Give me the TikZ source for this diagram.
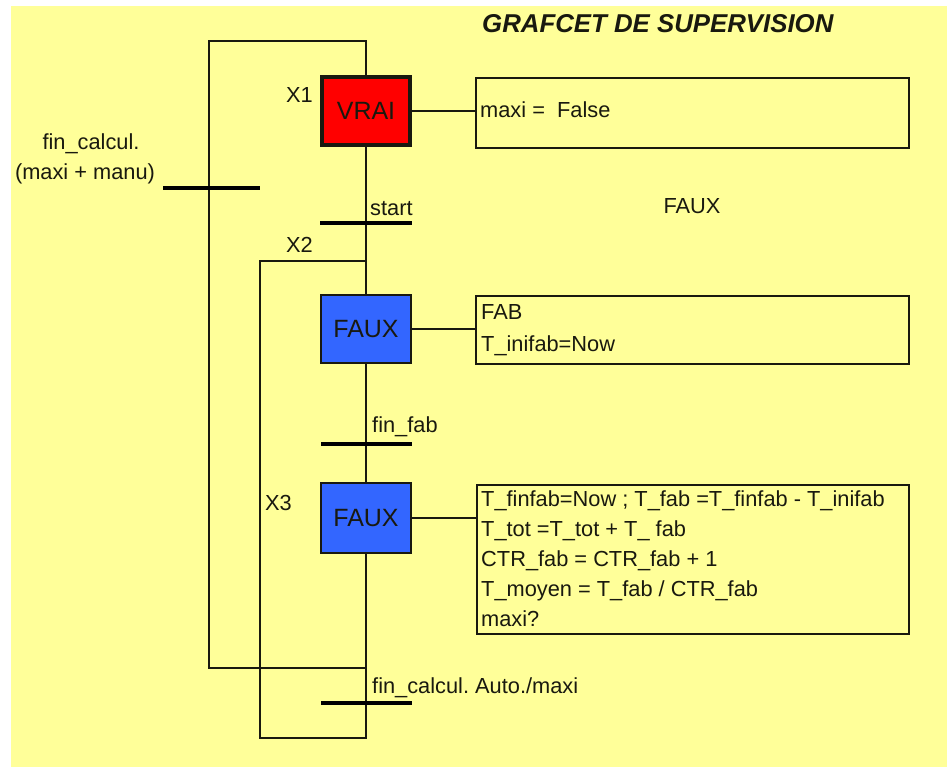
\documentclass[tikz,border=0pt]{standalone}
\usepackage{fontspec}
\setmainfont{Liberation Sans}
\definecolor{bgyellow}{RGB}{255,255,153}
\definecolor{stepblue}{RGB}{51,102,255}
\definecolor{stepred}{RGB}{255,0,0}
\definecolor{ink}{RGB}{25,25,15}
\frenchspacing
\begin{document}
\begin{tikzpicture}[x=1pt,y=-1pt,
  wire/.style={line width=2pt, draw=ink},
  bar/.style={line width=4.3pt, draw=black},
  stepbox/.style={draw=ink, line width=2pt, minimum width=90pt, minimum height=68pt, inner sep=0pt, font=\fontsize{25}{29}\selectfont, text=ink},
  actbox/.style={draw=ink, line width=2.3pt, inner sep=0pt, anchor=north west},
  txt/.style={font=\fontsize{21.8}{26}\selectfont, inner sep=0pt, anchor=base west, text=ink}]
\useasboundingbox (0,0) rectangle (947,767);
\fill[white] (0,0) rectangle (947,767);
\fill[bgyellow] (11,6) rectangle (947,767);

% title
\node[font=\fontsize{25.8}{30}\selectfont\bfseries\itshape, anchor=base west, inner sep=0pt, text=ink] (title) at (482,33) {GRAFCET DE SUPERVISION};

% steps
\node[stepbox, fill=stepred, line width=4.5pt, minimum width=88pt, minimum height=68pt] (X1) at (366,111) {VRAI};
\node[stepbox, fill=stepblue] (X2) at (366,329) {FAUX};
\node[stepbox, fill=stepblue, minimum height=70pt] (X3) at (366,518) {FAUX};

% step labels
\node[txt, anchor=base east] (lX1) at (313,103) {X1};
\node[txt, anchor=base east] (lX2) at (313,252) {X2};
\node[txt, anchor=base east] (lX3) at (292,510) {X3};

% action boxes
\node[actbox, minimum width=433pt, minimum height=70pt] (A1) at (475,77) {};
\node[actbox, minimum width=433pt, minimum height=68pt] (A2) at (475,295) {};
\node[actbox, minimum width=432pt, minimum height=149pt] (A3) at (476,484) {};

\node[txt] (a1t) at (480,118) {maxi = \ False};
\node[txt] (a2t1) at (481,319) {FAB};
\node[txt] (a2t2) at (481,351) {T\_inifab=Now};
\node[txt] (a3t1) at (481,506) {T\_finfab=Now ; T\_fab =T\_finfab - T\_inifab};
\node[txt] (a3t2) at (481,536) {T\_tot =T\_tot + T\_ fab};
\node[txt] (a3t3) at (481,566) {CTR\_fab = CTR\_fab + 1};
\node[txt] (a3t4) at (481,596) {T\_moyen = T\_fab / CTR\_fab};
\node[txt] (a3t5) at (481,626) {maxi?};

\node[txt, anchor=base] (faux) at (692,214) {FAUX};

% transition labels
\node[txt] (lstart) at (370,216) {start};
\node[txt] (lfinfab) at (372,432) {fin\_fab};
\node[txt] (lfinal) at (372,693) {fin\_calcul. Auto./maxi};
\node[txt, anchor=base] (lleft1) at (91,150) {fin\_calcul.};
\node[txt, anchor=base] (lleft2) at (85,180) {(maxi + manu)};

% coordinates
\coordinate (T0) at (209,188);
\coordinate (T1) at (366,223);
\coordinate (T2) at (366,444);
\coordinate (T3) at (366,703);
\coordinate (L1) at (366,668);
\coordinate (L2) at (209,668);
\coordinate (L3) at (209,41);
\coordinate (L4) at (366,41);
\coordinate (B1) at (366,738);
\coordinate (B2) at (260,738);
\coordinate (J1) at (260,261);
\coordinate (J2) at (366,261);

% action links
\draw[wire] (X1.east) -- (X1.east -| A1.west);
\draw[wire] (X2.east) -- (X2.east -| A2.west);
\draw[wire] (X3.east) -- (X3.east -| A3.west);

% main chain
\draw[wire] (X1.south) -- (X2.north);
\draw[wire] (X2.south) -- (X3.north);
\draw[wire] (X3.south) -- (B1) -- (B2) -- (J1) -- (J2);
\draw[wire] (L1) -- (L2) -- (L3) -- (L4) -- (X1.north);

% transition bars
\draw[bar] ([xshift=-46pt]T0) -- ([xshift=51pt]T0);
\draw[bar] ([xshift=-46pt]T1) -- ([xshift=46pt]T1);
\draw[bar] ([xshift=-45pt]T2) -- ([xshift=46pt]T2);
\draw[bar] ([xshift=-45pt]T3) -- ([xshift=46pt]T3);
\end{tikzpicture}
\end{document}
